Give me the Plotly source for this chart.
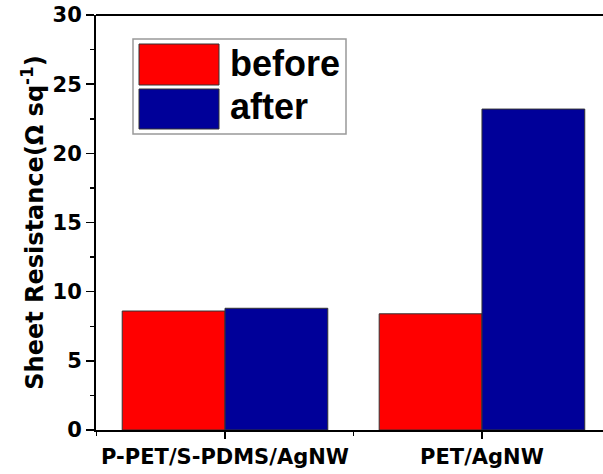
import plotly.graph_objects as go

categories = ["P-PET/S-PDMS/AgNW", "PET/AgNW"]
before_vals = [8.6, 8.4]
after_vals = [8.8, 23.2]
series_names = ["before", "after"]
y_ticks = [0, 5, 10, 15, 20, 25, 30]

RED = "#ff0000"
BLUE = "#000099"
FONT = "DejaVu Sans"
LFONT = "Liberation Sans"

# figure is slightly wider than the 603px window so the plot's right edge is cropped like the reference
W, H = 612, 474
L, R, T, B = 96, 0, 15, 44
pw, ph = W - L - R, H - T - B

def px(x):
    return (x - L) / pw

def py(y):
    return (H - B - y) / ph

xpos = list(range(len(categories)))

fig = go.Figure()
fig.add_trace(go.Bar(x=xpos, y=before_vals, name=series_names[0],
                     marker=dict(color=RED, line=dict(color="#333333", width=1))))
fig.add_trace(go.Bar(x=xpos, y=after_vals, name=series_names[1],
                     marker=dict(color=BLUE, line=dict(color="#333333", width=1))))

shapes = [
    dict(type="line", xref="paper", yref="paper", x0=0, x1=1.0, y0=1, y1=1,
         line=dict(color="black", width=2), layer="above"),
    dict(type="rect", xref="paper", yref="paper", x0=px(133), x1=px(346), y0=py(134), y1=py(39),
         line=dict(color="#999999", width=1.5), fillcolor="white", layer="above"),
    dict(type="rect", xref="paper", yref="paper", x0=px(139), x1=px(219), y0=py(85), y1=py(44),
         line=dict(color="#333333", width=1), fillcolor=RED, layer="above"),
    dict(type="rect", xref="paper", yref="paper", x0=px(139), x1=px(219), y0=py(129), y1=py(89),
         line=dict(color="#333333", width=1), fillcolor=BLUE, layer="above"),
]
annotations = [
    dict(xref="paper", yref="paper", x=px(228), y=py(64), text=series_names[0], showarrow=False,
         xanchor="left", yanchor="middle", font=dict(size=36, family=LFONT, color="black", weight="bold")),
    dict(xref="paper", yref="paper", x=px(228), y=py(106), text=series_names[1], showarrow=False,
         xanchor="left", yanchor="middle", font=dict(size=36, family=LFONT, color="black", weight="bold")),
]

fig.update_layout(
    width=W, height=H,
    margin=dict(l=L, r=R, t=T, b=B, pad=0),
    paper_bgcolor="white", plot_bgcolor="white",
    barmode="group", bargap=0.2, bargroupgap=0,
    showlegend=False, hovermode=False,
    font=dict(family=FONT, color="black", weight="bold"),
    shapes=shapes, annotations=annotations,
)
fig.update_xaxes(
    range=[-0.502, 1.506], tickmode="array", tickvals=xpos, ticktext=categories,
    showline=True, linecolor="black", linewidth=2, mirror=False,
    ticks="outside", ticklen=7, tickwidth=1.5, tickcolor="black",
    minor=dict(tickmode="array", tickvals=[-0.5, 0.5], ticks="outside", ticklen=4, tickwidth=1.5, tickcolor="black"),
    showgrid=False, zeroline=False,
    tickfont=dict(size=21, family=FONT, color="black", weight="bold"),
    automargin=False,
)
fig.update_yaxes(
    range=[0, 30], tickmode="array", tickvals=y_ticks,
    showline=True, linecolor="black", linewidth=2, mirror=False,
    ticks="outside", ticklen=8, tickwidth=1.5, tickcolor="black",
    minor=dict(dtick=2.5, ticks="outside", ticklen=4, tickwidth=1.5, tickcolor="black"),
    showgrid=False, zeroline=False,
    tickfont=dict(size=21, family=FONT, color="black", weight="bold"),
    title=dict(text="Sheet Resistance(Ω sq<sup>-1</sup>)", standoff=2,
               font=dict(size=24, family=FONT, color="black", weight="bold")),
    automargin=False,
)

fig.write_html(
    "out.html", config={"displayModeBar": False, "staticPlot": True},
    post_script=("document.body.style.margin='0px';"
                 "document.body.style.overflow='hidden';"
                 "document.documentElement.style.overflow='hidden';"),
)
